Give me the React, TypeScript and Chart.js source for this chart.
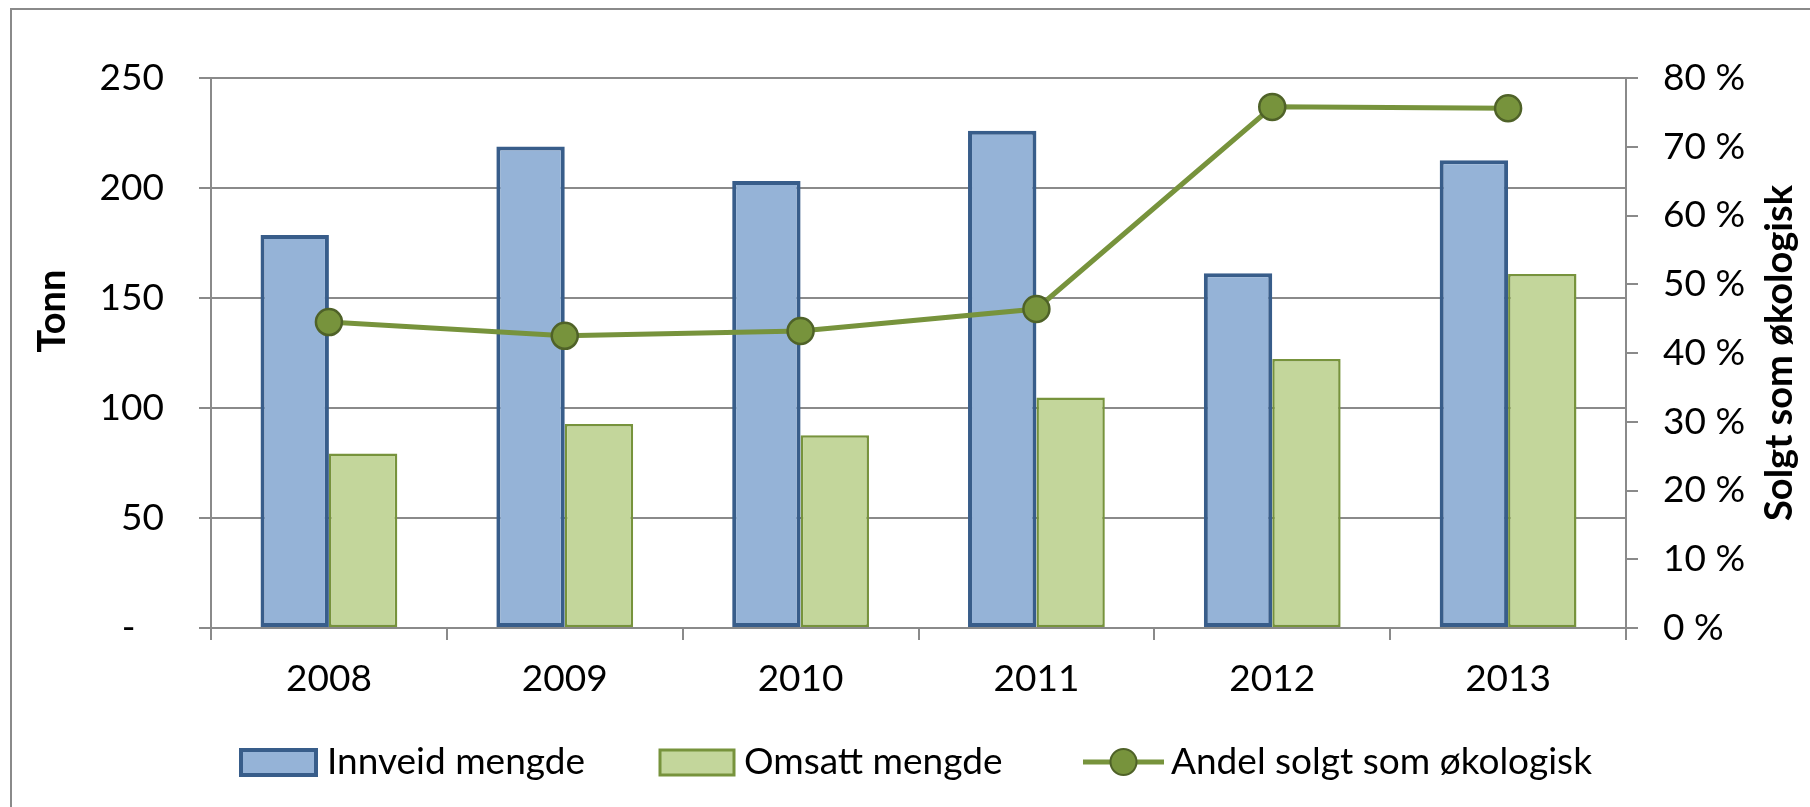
import React, { useEffect, useRef } from 'react';
import { Chart, registerables } from 'chart.js';

Chart.register(...registerables);

// ---- data ----
const years = ['2008', '2009', '2010', '2011', '2012', '2013'];
const innveid = [178.6, 218.9, 203.2, 226.0, 161.3, 212.6];
const omsatt = [79.3, 92.7, 87.6, 104.8, 122.3, 160.9];
const andel = [44.5, 42.5, 43.2, 46.4, 75.8, 75.6];
const seriesNames = ['Innveid mengde', 'Omsatt mengde', 'Andel solgt som økologisk'];
const leftTitle = 'Tonn';
const rightTitle = 'Solgt som økologisk';

// ---- style ----
const FONT = "Lato, 'Open Sans', sans-serif";
const FS = 37;
const TFS = 38;
const GRID = '#8a8a8a';
const BLUE_FILL = '#95B3D7';
const BLUE_LINE = '#385D8A';
const GREEN_FILL = '#C3D69B';
const GREEN_LINE = '#77933C';
const MARK_LINE = '#4F6228';

const W = 1810;
const H = 807;

const decorPlugin = {
  id: 'decor',
  beforeDraw(chart: any) {
    const ctx = chart.ctx;
    ctx.save();
    ctx.fillStyle = '#ffffff';
    ctx.fillRect(0, 0, W, H);
    ctx.strokeStyle = GRID;
    ctx.lineWidth = 2;
    ctx.beginPath();
    ctx.moveTo(11, H + 2);
    ctx.lineTo(11, 9);
    ctx.lineTo(W + 2, 9);
    ctx.stroke();
    ctx.restore();
  },
  afterDraw(chart: any) {
    const ctx = chart.ctx;
    const area = chart.chartArea;
    ctx.save();
    ctx.fillStyle = '#000';
    ctx.font = `bold ${TFS}px ${FONT}`;
    ctx.textAlign = 'center';
    ctx.textBaseline = 'middle';
    // left title
    ctx.save();
    ctx.translate(53, 311);
    ctx.rotate(-Math.PI / 2);
    ctx.fillText(leftTitle, 0, 0);
    ctx.restore();
    // right title
    ctx.save();
    ctx.translate(1780, (area.top + area.bottom) / 2);
    ctx.rotate(-Math.PI / 2);
    ctx.fillText(rightTitle, 0, 0);
    ctx.restore();

    // legend
    const ly = 762;
    ctx.font = `${FS}px ${FONT}`;
    ctx.textAlign = 'left';
    ctx.textBaseline = 'middle';
    // item 1
    ctx.fillStyle = BLUE_FILL;
    ctx.fillRect(241, 750, 75, 25);
    ctx.strokeStyle = BLUE_LINE;
    ctx.lineWidth = 4;
    ctx.strokeRect(241, 750, 75, 25);
    ctx.fillStyle = '#000';
    ctx.fillText(seriesNames[0], 327, ly);
    // item 2
    ctx.fillStyle = GREEN_FILL;
    ctx.fillRect(660, 750, 74, 25);
    ctx.strokeStyle = GREEN_LINE;
    ctx.lineWidth = 3;
    ctx.strokeRect(660, 750, 74, 25);
    ctx.fillStyle = '#000';
    ctx.fillText(seriesNames[1], 744, ly);
    // item 3
    ctx.strokeStyle = GREEN_LINE;
    ctx.lineWidth = 5;
    ctx.beginPath();
    ctx.moveTo(1083, ly);
    ctx.lineTo(1164, ly);
    ctx.stroke();
    ctx.beginPath();
    ctx.arc(1123.5, ly, 13, 0, Math.PI * 2);
    ctx.fillStyle = GREEN_LINE;
    ctx.fill();
    ctx.lineWidth = 2;
    ctx.strokeStyle = MARK_LINE;
    ctx.stroke();
    ctx.fillStyle = '#000';
    ctx.fillText(seriesNames[2], 1171, ly);
    ctx.restore();
  },
};

export default function App() {
  const ref = useRef<HTMLCanvasElement | null>(null);

  useEffect(() => {
    const canvas = ref.current;
    if (!canvas) return;
    const tickFont = { family: FONT, size: FS };
    const chart = new Chart(canvas, {
      type: 'bar',
      data: {
        labels: years,
        datasets: [
          {
            type: 'line',
            label: seriesNames[2],
            data: andel,
            yAxisID: 'y1',
            order: 0,
            borderColor: GREEN_LINE,
            borderWidth: 5,
            pointRadius: 13,
            pointBackgroundColor: GREEN_LINE,
            pointBorderColor: MARK_LINE,
            pointBorderWidth: 2.5,
            tension: 0,
          } as any,
          {
            label: seriesNames[0],
            data: innveid,
            yAxisID: 'y',
            order: 1,
            backgroundColor: BLUE_FILL,
            borderColor: BLUE_LINE,
            borderWidth: 4,
            borderSkipped: false,
            categoryPercentage: 0.58,
            barPercentage: 1,
          },
          {
            label: seriesNames[1],
            data: omsatt,
            yAxisID: 'y',
            order: 1,
            backgroundColor: GREEN_FILL,
            borderColor: GREEN_LINE,
            borderWidth: 2.5,
            borderSkipped: false,
            categoryPercentage: 0.58,
            barPercentage: 1,
          },
        ],
      },
      options: {
        animation: false,
        responsive: false,
        devicePixelRatio: 1,
        layout: { padding: { top: 78, left: 0, right: 0, bottom: 0 } },
        plugins: {
          legend: { display: false },
          tooltip: { enabled: false },
          title: { display: false },
        },
        scales: {
          x: {
            afterFit: (s: any) => {
              s.height = H - 628;
            },
            grid: {
              offset: true,
              drawOnChartArea: false,
              drawTicks: true,
              tickLength: 12,
              color: GRID,
              lineWidth: 2,
            },
            border: { display: true, color: GRID, width: 2 },
            ticks: { font: tickFont, color: '#000', padding: 17, maxRotation: 0 },
          },
          y: {
            position: 'left',
            min: 0,
            max: 250,
            afterFit: (s: any) => {
              s.width = 211;
            },
            grid: {
              drawOnChartArea: true,
              drawTicks: true,
              tickLength: 12,
              color: GRID,
              lineWidth: 2,
            },
            border: { display: true, color: GRID, width: 2 },
            ticks: {
              stepSize: 50,
              font: tickFont,
              color: '#000',
              padding: 35,
              callback: (v: any) => (Number(v) === 0 ? '-   ' : String(v)),
            },
          },
          y1: {
            position: 'right',
            min: 0,
            max: 80,
            afterFit: (s: any) => {
              s.width = W - 1626;
            },
            grid: {
              drawOnChartArea: false,
              drawTicks: true,
              tickLength: 12,
              color: GRID,
              lineWidth: 2,
            },
            border: { display: true, color: GRID, width: 2 },
            ticks: {
              stepSize: 10,
              font: tickFont,
              color: '#000',
              padding: 25,
              callback: (v: any) => `${v} %`,
            },
          },
        },
      },
      plugins: [decorPlugin],
    });
    if ((document as any).fonts && (document as any).fonts.load) {
      (document as any).fonts
        .load(`${FS}px Lato`)
        .then(() => chart.update())
        .catch(() => {});
    }
    return () => chart.destroy();
  }, []);

  return (
    <canvas
      ref={ref}
      width={W}
      height={H}
      style={{ position: 'absolute', left: 0, top: 0, width: W, height: H, display: 'block' }}
    />
  );
}
